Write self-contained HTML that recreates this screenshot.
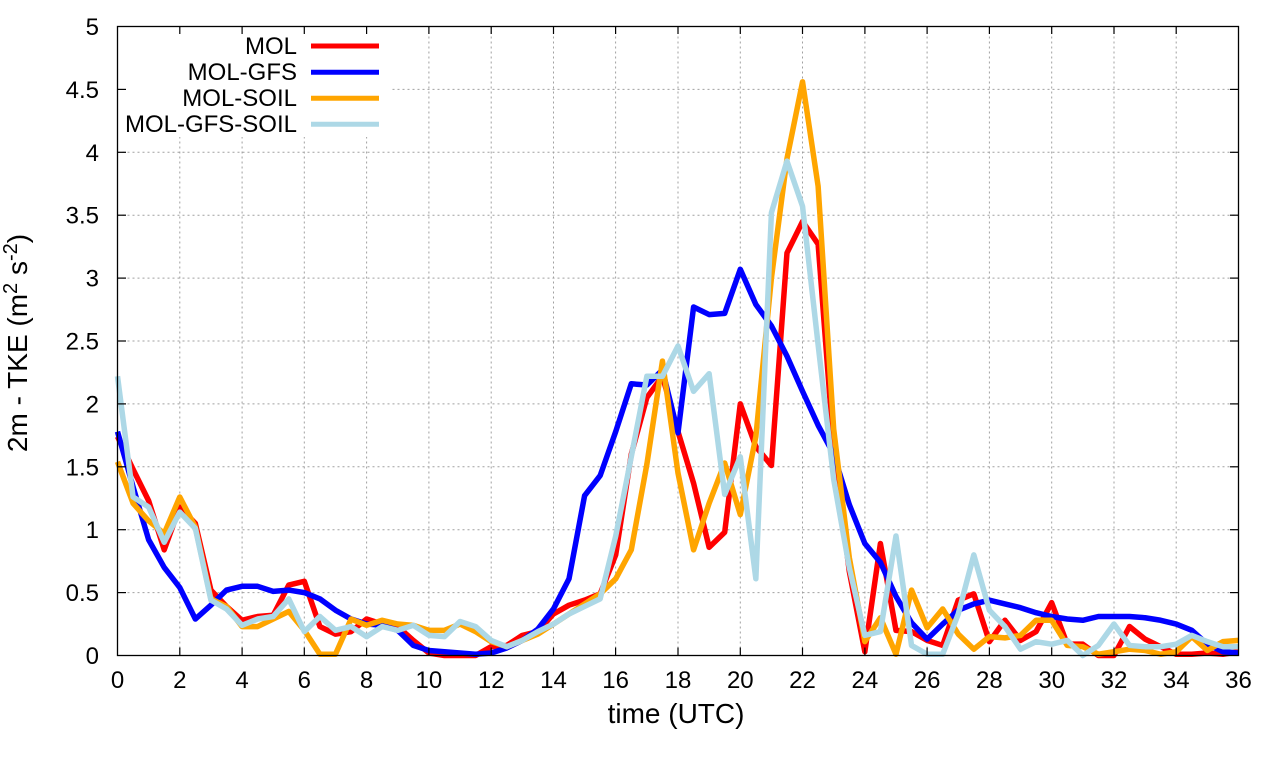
<!DOCTYPE html>
<html>
<head>
<meta charset="utf-8">
<style>
html,body{margin:0;padding:0;background:#fff;}
svg{display:block;}
text{font-family:"Liberation Sans",Arial,sans-serif;fill:#000;}
</style>
</head>
<body>
<svg width="1280" height="760" viewBox="0 0 1280 760" xmlns="http://www.w3.org/2000/svg">
<rect x="0" y="0" width="1280" height="760" fill="#fff"/>
<!-- grid -->
<g stroke="#a0a0a0" stroke-width="1" stroke-dasharray="2,3" fill="none">
<line x1="117.5" y1="592.6" x2="1238.5" y2="592.6"/>
<line x1="117.5" y1="529.7" x2="1238.5" y2="529.7"/>
<line x1="117.5" y1="466.8" x2="1238.5" y2="466.8"/>
<line x1="117.5" y1="403.9" x2="1238.5" y2="403.9"/>
<line x1="117.5" y1="341.0" x2="1238.5" y2="341.0"/>
<line x1="117.5" y1="278.1" x2="1238.5" y2="278.1"/>
<line x1="117.5" y1="215.2" x2="1238.5" y2="215.2"/>
<line x1="117.5" y1="152.3" x2="1238.5" y2="152.3"/>
<line x1="117.5" y1="89.4" x2="1238.5" y2="89.4"/>
<line x1="179.8" y1="26.5" x2="179.8" y2="655.5"/>
<line x1="242.1" y1="26.5" x2="242.1" y2="655.5"/>
<line x1="304.3" y1="26.5" x2="304.3" y2="655.5"/>
<line x1="366.6" y1="26.5" x2="366.6" y2="655.5"/>
<line x1="428.9" y1="26.5" x2="428.9" y2="655.5"/>
<line x1="491.2" y1="26.5" x2="491.2" y2="655.5"/>
<line x1="553.5" y1="26.5" x2="553.5" y2="655.5"/>
<line x1="615.6" y1="26.5" x2="615.6" y2="655.5"/>
<line x1="678.0" y1="26.5" x2="678.0" y2="655.5"/>
<line x1="740.3" y1="26.5" x2="740.3" y2="655.5"/>
<line x1="802.5" y1="26.5" x2="802.5" y2="655.5"/>
<line x1="864.9" y1="26.5" x2="864.9" y2="655.5"/>
<line x1="927.1" y1="26.5" x2="927.1" y2="655.5"/>
<line x1="989.4" y1="26.5" x2="989.4" y2="655.5"/>
<line x1="1051.7" y1="26.5" x2="1051.7" y2="655.5"/>
<line x1="1114.0" y1="26.5" x2="1114.0" y2="655.5"/>
<line x1="1176.2" y1="26.5" x2="1176.2" y2="655.5"/>
</g>
<!-- legend opaque box -->
<rect x="118.5" y="27.5" width="273.5" height="109.5" fill="#fff"/>

<!-- data series -->
<g transform="translate(117.5,655.5) scale(31.1389,-125.8)" fill="none" stroke-linejoin="round">
<polyline vector-effect="non-scaling-stroke" stroke="#ff0000" stroke-width="5.5" points="
0,1.74 0.5,1.48 1,1.23 1.5,0.84 2,1.18 2.5,1.05 3,0.52 3.5,0.39 4,0.28 4.5,0.31 5,0.32 5.5,0.56 6,0.59 6.5,0.23 7,0.17 7.5,0.19 8,0.29 8.5,0.25 9,0.23 9.5,0.12 10,0.02 10.5,0.0 11,0.0 11.5,0.0 12,0.07 12.5,0.08 13,0.16 13.5,0.19 14,0.33 14.5,0.40 15,0.44 15.5,0.49 16,0.80 16.5,1.60 17,2.05 17.5,2.22 18,1.78 18.5,1.37 19,0.86 19.5,0.98 20,2.00 20.5,1.66 21,1.51 21.5,3.20 22,3.45 22.5,3.27 23,1.65 23.5,0.67 24,0.03 24.5,0.89 25,0.20 25.5,0.19 26,0.12 26.5,0.08 27,0.44 27.5,0.49 28,0.11 28.5,0.28 29,0.12 29.5,0.19 30,0.42 30.5,0.09 31,0.09 31.5,0.0 32,0.0 32.5,0.23 33,0.13 33.5,0.07 34,0.01 34.5,0.01 35,0.02 35.5,0.01 36,0.03"/>
<polyline vector-effect="non-scaling-stroke" stroke="#0000ff" stroke-width="5.5" points="
0,1.78 0.5,1.34 1,0.92 1.5,0.70 2,0.54 2.5,0.29 3,0.40 3.5,0.52 4,0.55 4.5,0.55 5,0.51 5.5,0.52 6,0.50 6.5,0.45 7,0.36 7.5,0.29 8,0.25 8.5,0.24 9,0.20 9.5,0.08 10,0.04 10.5,0.03 11,0.02 11.5,0.01 12,0.02 12.5,0.06 13,0.12 13.5,0.21 14,0.37 14.5,0.61 15,1.27 15.5,1.43 16,1.78 16.5,2.16 17,2.15 17.5,2.27 18,1.77 18.5,2.77 19,2.71 19.5,2.72 20,3.07 20.5,2.79 21,2.62 21.5,2.38 22,2.10 22.5,1.83 23,1.60 23.5,1.20 24,0.89 24.5,0.74 25,0.47 25.5,0.26 26,0.13 26.5,0.25 27,0.36 27.5,0.41 28,0.44 28.5,0.41 29,0.38 29.5,0.34 30,0.31 30.5,0.29 31,0.28 31.5,0.31 32,0.31 32.5,0.31 33,0.30 33.5,0.28 34,0.25 34.5,0.20 35,0.09 35.5,0.03 36,0.02"/>
<polyline vector-effect="non-scaling-stroke" stroke="#ffa500" stroke-width="5.5" points="
0,1.54 0.5,1.21 1,1.07 1.5,0.97 2,1.26 2.5,1.02 3,0.45 3.5,0.39 4,0.23 4.5,0.23 5,0.29 5.5,0.35 6,0.20 6.5,0.01 7,0.01 7.5,0.29 8,0.24 8.5,0.28 9,0.25 9.5,0.24 10,0.20 10.5,0.20 11,0.25 11.5,0.19 12,0.11 12.5,0.07 13,0.12 13.5,0.17 14,0.25 14.5,0.33 15,0.41 15.5,0.49 16,0.61 16.5,0.84 17,1.52 17.5,2.34 18,1.45 18.5,0.84 19,1.21 19.5,1.53 20,1.12 20.5,1.74 21,3.00 21.5,3.95 22,4.56 22.5,3.73 23,1.80 23.5,0.78 24,0.11 24.5,0.30 25,0.01 25.5,0.52 26,0.22 26.5,0.37 27,0.17 27.5,0.05 28,0.15 28.5,0.14 29,0.16 29.5,0.28 30,0.28 30.5,0.08 31,0.07 31.5,0.01 32,0.03 32.5,0.05 33,0.04 33.5,0.01 34,0.03 34.5,0.15 35,0.04 35.5,0.11 36,0.12"/>
<polyline vector-effect="non-scaling-stroke" stroke="#add8e6" stroke-width="5.5" points="
0,2.22 0.5,1.26 1,1.18 1.5,0.90 2,1.14 2.5,1.01 3,0.44 3.5,0.37 4,0.24 4.5,0.29 5,0.31 5.5,0.45 6,0.19 6.5,0.31 7,0.20 7.5,0.23 8,0.15 8.5,0.23 9,0.20 9.5,0.24 10,0.16 10.5,0.15 11,0.27 11.5,0.23 12,0.12 12.5,0.07 13,0.12 13.5,0.19 14,0.25 14.5,0.33 15,0.39 15.5,0.45 16,0.95 16.5,1.58 17,2.22 17.5,2.22 18,2.46 18.5,2.10 19,2.24 19.5,1.28 20,1.58 20.5,0.61 21,3.52 21.5,3.93 22,3.57 22.5,2.47 23,1.40 23.5,0.70 24,0.16 24.5,0.19 25,0.95 25.5,0.08 26,0.01 26.5,0.01 27,0.33 27.5,0.80 28,0.36 28.5,0.23 29,0.05 29.5,0.11 30,0.09 30.5,0.12 31,0.0 31.5,0.08 32,0.25 32.5,0.08 33,0.07 33.5,0.07 34,0.09 34.5,0.16 35,0.11 35.5,0.07 36,0.07"/>
</g>

<!-- border -->
<rect x="117.5" y="26.5" width="1121" height="629" fill="none" stroke="#000" stroke-width="1.3"/>
<!-- ticks -->
<g stroke="#000" stroke-width="1.2">
<line x1="117.5" y1="592.6" x2="126" y2="592.6"/><line x1="1238.5" y1="592.6" x2="1230" y2="592.6"/>
<line x1="117.5" y1="529.7" x2="126" y2="529.7"/><line x1="1238.5" y1="529.7" x2="1230" y2="529.7"/>
<line x1="117.5" y1="466.8" x2="126" y2="466.8"/><line x1="1238.5" y1="466.8" x2="1230" y2="466.8"/>
<line x1="117.5" y1="403.9" x2="126" y2="403.9"/><line x1="1238.5" y1="403.9" x2="1230" y2="403.9"/>
<line x1="117.5" y1="341.0" x2="126" y2="341.0"/><line x1="1238.5" y1="341.0" x2="1230" y2="341.0"/>
<line x1="117.5" y1="278.1" x2="126" y2="278.1"/><line x1="1238.5" y1="278.1" x2="1230" y2="278.1"/>
<line x1="117.5" y1="215.2" x2="126" y2="215.2"/><line x1="1238.5" y1="215.2" x2="1230" y2="215.2"/>
<line x1="117.5" y1="152.3" x2="126" y2="152.3"/><line x1="1238.5" y1="152.3" x2="1230" y2="152.3"/>
<line x1="117.5" y1="89.4" x2="126" y2="89.4"/><line x1="1238.5" y1="89.4" x2="1230" y2="89.4"/>
<line x1="179.8" y1="655.5" x2="179.8" y2="647.5"/><line x1="179.8" y1="26.5" x2="179.8" y2="34"/>
<line x1="242.1" y1="655.5" x2="242.1" y2="647.5"/><line x1="242.1" y1="26.5" x2="242.1" y2="34"/>
<line x1="304.3" y1="655.5" x2="304.3" y2="647.5"/><line x1="304.3" y1="26.5" x2="304.3" y2="34"/>
<line x1="366.6" y1="655.5" x2="366.6" y2="647.5"/><line x1="366.6" y1="26.5" x2="366.6" y2="34"/>
<line x1="428.9" y1="655.5" x2="428.9" y2="647.5"/><line x1="428.9" y1="26.5" x2="428.9" y2="34"/>
<line x1="491.2" y1="655.5" x2="491.2" y2="647.5"/><line x1="491.2" y1="26.5" x2="491.2" y2="34"/>
<line x1="553.5" y1="655.5" x2="553.5" y2="647.5"/><line x1="553.5" y1="26.5" x2="553.5" y2="34"/>
<line x1="615.6" y1="655.5" x2="615.6" y2="647.5"/><line x1="615.6" y1="26.5" x2="615.6" y2="34"/>
<line x1="678.0" y1="655.5" x2="678.0" y2="647.5"/><line x1="678.0" y1="26.5" x2="678.0" y2="34"/>
<line x1="740.3" y1="655.5" x2="740.3" y2="647.5"/><line x1="740.3" y1="26.5" x2="740.3" y2="34"/>
<line x1="802.5" y1="655.5" x2="802.5" y2="647.5"/><line x1="802.5" y1="26.5" x2="802.5" y2="34"/>
<line x1="864.9" y1="655.5" x2="864.9" y2="647.5"/><line x1="864.9" y1="26.5" x2="864.9" y2="34"/>
<line x1="927.1" y1="655.5" x2="927.1" y2="647.5"/><line x1="927.1" y1="26.5" x2="927.1" y2="34"/>
<line x1="989.4" y1="655.5" x2="989.4" y2="647.5"/><line x1="989.4" y1="26.5" x2="989.4" y2="34"/>
<line x1="1051.7" y1="655.5" x2="1051.7" y2="647.5"/><line x1="1051.7" y1="26.5" x2="1051.7" y2="34"/>
<line x1="1114.0" y1="655.5" x2="1114.0" y2="647.5"/><line x1="1114.0" y1="26.5" x2="1114.0" y2="34"/>
<line x1="1176.2" y1="655.5" x2="1176.2" y2="647.5"/><line x1="1176.2" y1="26.5" x2="1176.2" y2="34"/>
</g>

<!-- y tick labels -->
<g font-size="24" text-anchor="end">
<text x="99" y="664">0</text>
<text x="99" y="601.1">0.5</text>
<text x="99" y="538.2">1</text>
<text x="99" y="475.3">1.5</text>
<text x="99" y="412.4">2</text>
<text x="99" y="349.5">2.5</text>
<text x="99" y="286.6">3</text>
<text x="99" y="223.7">3.5</text>
<text x="99" y="160.8">4</text>
<text x="99" y="97.9">4.5</text>
<text x="99" y="35">5</text>
</g>
<!-- x tick labels -->
<g font-size="24" text-anchor="middle">
<text x="117.5" y="688">0</text>
<text x="179.8" y="688">2</text>
<text x="242.1" y="688">4</text>
<text x="304.3" y="688">6</text>
<text x="366.6" y="688">8</text>
<text x="428.9" y="688">10</text>
<text x="491.2" y="688">12</text>
<text x="553.5" y="688">14</text>
<text x="615.6" y="688">16</text>
<text x="678.0" y="688">18</text>
<text x="740.3" y="688">20</text>
<text x="802.5" y="688">22</text>
<text x="864.9" y="688">24</text>
<text x="927.1" y="688">26</text>
<text x="989.4" y="688">28</text>
<text x="1051.7" y="688">30</text>
<text x="1114.0" y="688">32</text>
<text x="1176.2" y="688">34</text>
<text x="1238.5" y="688">36</text>
</g>

<!-- axis labels -->
<text x="676" y="723" font-size="28" text-anchor="middle">time (UTC)</text>
<text transform="translate(27,343) rotate(-90)" font-size="28" text-anchor="middle">2m - TKE (m<tspan font-size="20" dy="-10">2</tspan><tspan dy="10"> s</tspan><tspan font-size="20" dy="-10">-2</tspan><tspan dy="10">)</tspan></text>

<!-- legend -->
<g font-size="24" text-anchor="end">
<text x="297" y="54">MOL</text>
<text x="297" y="80">MOL-GFS</text>
<text x="297" y="106">MOL-SOIL</text>
<text x="297" y="132">MOL-GFS-SOIL</text>
</g>
<g stroke-width="5">
<line x1="311" y1="46" x2="379" y2="46" stroke="#ff0000"/>
<line x1="311" y1="72.3" x2="379" y2="72.3" stroke="#0000ff"/>
<line x1="311" y1="98.3" x2="379" y2="98.3" stroke="#ffa500"/>
<line x1="311" y1="124.3" x2="379" y2="124.3" stroke="#add8e6"/>
</g>
</svg>
</body>
</html>
